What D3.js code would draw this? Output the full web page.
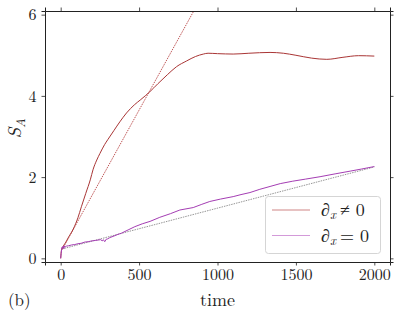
<!DOCTYPE html>
<html>
<head>
<meta charset="utf-8">
<script src="https://cdn.jsdelivr.net/npm/d3@7"></script>
<style>
  body { margin: 0; background: #fff; }
  svg { display: block; }
</style>
</head>
<body>
<svg id="chart"></svg>
<script>
// S_A(t) for the two cases
const redTime = [0, 5, 15, 30, 50, 80, 110, 132, 160, 190, 206, 230, 250, 280, 300, 340, 377, 420, 470, 511, 568, 620, 680, 739, 803, 860, 910, 940, 1000, 1100, 1200, 1335, 1420, 1500, 1600, 1697, 1800, 1900, 2000];
const redS = [0, 0.2, 0.29, 0.38, 0.52, 0.72, 1.0, 1.27, 1.6, 1.95, 2.18, 2.42, 2.58, 2.8, 2.92, 3.15, 3.36, 3.58, 3.78, 3.91, 4.1, 4.3, 4.52, 4.72, 4.86, 4.97, 5.03, 5.05, 5.04, 5.03, 5.05, 5.07, 5.05, 5.0, 4.93, 4.9, 4.95, 4.99, 4.98];

const purpleTime = [0, 3, 6, 8, 12, 16, 20, 25, 30, 36, 50, 70, 90, 110, 130, 153, 175, 200, 220, 238, 255, 265, 272, 281, 290, 300, 313, 340, 365, 388, 430, 473, 520, 570, 632, 700, 760, 845, 900, 951, 1020, 1100, 1150, 1207, 1270, 1335, 1400, 1480, 1560, 1654, 1750, 1850, 1920, 2000];
const purpleS = [0, 0.12, 0.22, 0.27, 0.25, 0.3, 0.24, 0.31, 0.28, 0.3, 0.31, 0.33, 0.34, 0.36, 0.37, 0.4, 0.41, 0.43, 0.44, 0.45, 0.46, 0.43, 0.46, 0.41, 0.47, 0.48, 0.51, 0.55, 0.59, 0.62, 0.7, 0.78, 0.85, 0.91, 1.01, 1.1, 1.19, 1.25, 1.33, 1.4, 1.46, 1.52, 1.57, 1.62, 1.7, 1.77, 1.84, 1.9, 1.95, 2.01, 2.08, 2.15, 2.2, 2.26];

// straight-line fits
const redFitTime = [10, 900];
const redFitS = [0.22, 6.45];
const grayFitTime = [8, 2000];
const grayFitS = [0.23, 2.25];

const xTicks = [0, 500, 1000, 1500, 2000];
const yTicks = [0, 2, 4, 6];
const legendLabels = ["≠ 0", "= 0"];

const FONT = "Latin Modern Roman, CMU Serif, Liberation Serif, serif";
const width = 401, height = 316;
const margin = { left: 45, right: 11, top: 11, bottom: 54 };

const svg = d3.select("#chart").attr("width", width).attr("height", height);

const x = d3.scaleLinear().domain([-100, 2100]).range([margin.left, width - margin.right]);
const y = d3.scaleLinear().domain([-0.09, 6.09]).range([height - margin.bottom, margin.top]);

svg.append("clipPath").attr("id", "plot-clip")
  .append("rect")
  .attr("x", margin.left).attr("y", margin.top)
  .attr("width", width - margin.left - margin.right)
  .attr("height", height - margin.top - margin.bottom);

const line = d3.line().x((d) => x(d[0])).y((d) => y(d[1]));
const zip = (a, b) => a.map((v, i) => [v, b[i]]);

const plot = svg.append("g").attr("clip-path", "url(#plot-clip)");

plot.append("path")
  .datum(zip(grayFitTime, grayFitS))
  .attr("d", line)
  .attr("fill", "none")
  .attr("stroke", "#8a8a8a")
  .attr("stroke-width", 0.9)
  .attr("stroke-dasharray", "1.5,1");

plot.append("path")
  .datum(zip(redFitTime, redFitS))
  .attr("d", line)
  .attr("fill", "none")
  .attr("stroke", "#b84444")
  .attr("stroke-width", 0.9)
  .attr("stroke-dasharray", "1.5,1");

plot.append("path")
  .datum(zip(redTime, redS))
  .attr("d", d3.line().curve(d3.curveMonotoneX).x((d) => x(d[0])).y((d) => y(d[1])))
  .attr("fill", "none")
  .attr("stroke", "#a93535")
  .attr("stroke-width", 1);

plot.append("path")
  .datum(zip(purpleTime, purpleS))
  .attr("d", line)
  .attr("fill", "none")
  .attr("stroke", "#a43db3")
  .attr("stroke-width", 1);

// axes
const fmt = d3.format("d");
const axBottom = svg.append("g")
  .attr("transform", `translate(0,${height - margin.bottom})`)
  .call(d3.axisBottom(x).tickValues(xTicks).tickFormat(fmt).tickSize(3.5).tickPadding(3));
const axTop = svg.append("g")
  .attr("transform", `translate(0,${margin.top})`)
  .call(d3.axisTop(x).tickValues(xTicks).tickSize(3.5).tickFormat(""));
const axLeft = svg.append("g")
  .attr("transform", `translate(${margin.left},0)`)
  .call(d3.axisLeft(y).tickValues(yTicks).tickFormat(fmt).tickSize(3.5).tickPadding(5));
const axRight = svg.append("g")
  .attr("transform", `translate(${width - margin.right},0)`)
  .call(d3.axisRight(y).tickValues(yTicks).tickSize(3.5).tickFormat(""));

[axBottom, axTop, axLeft, axRight].forEach((g) => {
  g.attr("font-family", FONT).attr("font-size", 16);
  g.select(".domain").attr("stroke", "#222").attr("stroke-width", 1);
  g.selectAll(".tick line").attr("stroke", "#222").attr("stroke-width", 0.8);
  g.selectAll("text").attr("fill", "#222");
});

// axis labels
svg.append("text")
  .attr("x", x(1000)).attr("y", 306)
  .attr("text-anchor", "middle")
  .attr("font-family", FONT)
  .attr("font-size", 18)
  .attr("fill", "#222")
  .text("time");

svg.append("text")
  .attr("x", 8).attr("y", 306)
  .attr("font-family", FONT)
  .attr("font-size", 17)
  .attr("fill", "#222")
  .text("(b)");

const yl = svg.append("text")
  .attr("transform", `translate(21,${y(3.2)}) rotate(-90)`)
  .attr("text-anchor", "middle")
  .attr("font-family", FONT)
  .attr("font-size", 19)
  .attr("fill", "#222");
yl.append("tspan").attr("font-style", "italic").text("S");
yl.append("tspan").attr("font-style", "italic").attr("font-size", 13).attr("dy", 4).text("A");

// legend
const legend = svg.append("g").attr("font-family", FONT).attr("fill", "#222");
legend.append("rect")
  .attr("x", 265.5).attr("y", 196.5)
  .attr("width", 115).attr("height", 57)
  .attr("rx", 3)
  .attr("fill", "#fff")
  .attr("fill-opacity", 0.85)
  .attr("stroke", "#d5d5d5")
  .attr("stroke-width", 1);

const legendColors = ["#d08686", "#d39ad9"];
legendLabels.forEach((lab, i) => {
  const ly = 210 + i * 25.5;
  legend.append("line")
    .attr("x1", 272).attr("x2", 310)
    .attr("y1", ly).attr("y2", ly)
    .attr("stroke", legendColors[i])
    .attr("stroke-width", 1.2);
  const t = legend.append("text")
    .attr("x", 321).attr("y", ly + 6)
    .attr("font-size", 18);
  t.append("tspan").attr("font-style", "italic").text("∂");
  t.append("tspan").attr("font-style", "italic").attr("font-size", 13).attr("dy", 3).text("x");
  t.append("tspan").attr("dy", -3).attr("dx", 4).text(lab);
});
</script>
</body>
</html>
